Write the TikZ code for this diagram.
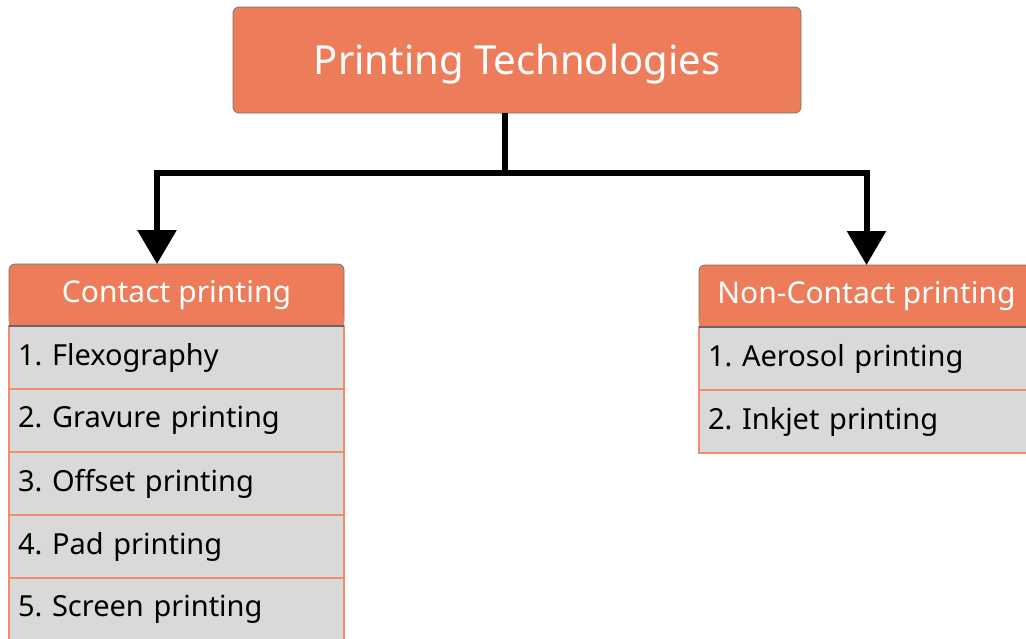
\documentclass[tikz,border=0pt]{standalone}
\usepackage{fontspec}
\setmainfont{Noto Sans}
\frenchspacing
\usetikzlibrary{positioning,arrows.meta}
\definecolor{myorange}{RGB}{237,125,90}
\definecolor{myline}{RGB}{242,140,110}
\definecolor{mygray}{RGB}{217,217,217}
\begin{document}
\begin{tikzpicture}[thick,node distance=0pt,
  titlebox/.style={draw=black!55,fill=myorange,rounded corners=6pt,minimum width=568pt,
    minimum height=106pt,text height=38pt,text depth=10pt,text=white,font=\fontsize{40}{48}\selectfont},
  headbox/.style={draw=black!55,fill=myorange,rounded corners=6pt,minimum width=335pt,
    minimum height=62pt,outer sep=0pt,text=white,font=\fontsize{30}{36}\selectfont},
  itembox/.style={draw=myline,line width=1.5pt,fill=mygray,minimum width=335pt,minimum height=63pt,
    outer sep=0pt,text width=317pt,align=left,inner xsep=9pt,font=\fontsize{29}{34}\selectfont},
  linkarrow/.style={line width=6pt,-{Triangle[width=38pt,length=34pt]}}]

  \useasboundingbox (0pt,0pt) rectangle (1026pt,-638pt);

  \node[titlebox] (title) at (517pt,-60pt) {Printing Technologies};

  \node[headbox] (contact) at (176.5pt,-295pt) {Contact printing};
  \node[headbox] (noncontact) at (866.5pt,-296pt) {Non-Contact printing};

  % square off the bottom of the headers
  \fill[myorange] ([yshift=10pt]contact.south west) rectangle (contact.south east);
  \fill[myorange] ([yshift=10pt]noncontact.south west) rectangle (noncontact.south east);

  % left list
  \node[itembox,below=of contact] (c1) {1. Flexography};
  \node[itembox,below=of c1] (c2) {2. Gravure printing};
  \node[itembox,below=of c2] (c3) {3. Offset printing};
  \node[itembox,below=of c3] (c4) {4. Pad printing};
  \node[itembox,below=of c4] (c5) {5. Screen printing};

  % right list
  \node[itembox,below=of noncontact] (n1) {1. Aerosol printing};
  \node[itembox,below=of n1] (n2) {2. Inkjet printing};

  \draw[black!60,line width=1.2pt] (contact.south west) -- (contact.south east)
   (noncontact.south west) -- (noncontact.south east);

  % draw links
  \coordinate (tout) at ([xshift=-12pt]title.south);
  \coordinate (split) at ([yshift=-60pt]tout);
  \coordinate (cin) at ([xshift=-19.5pt]contact.north);
  \draw[line width=6pt] (tout) -- (split);
  \draw[linkarrow] (split) -| (cin);
  \draw[linkarrow] (split) -| (noncontact.north);

\end{tikzpicture}
\end{document}
